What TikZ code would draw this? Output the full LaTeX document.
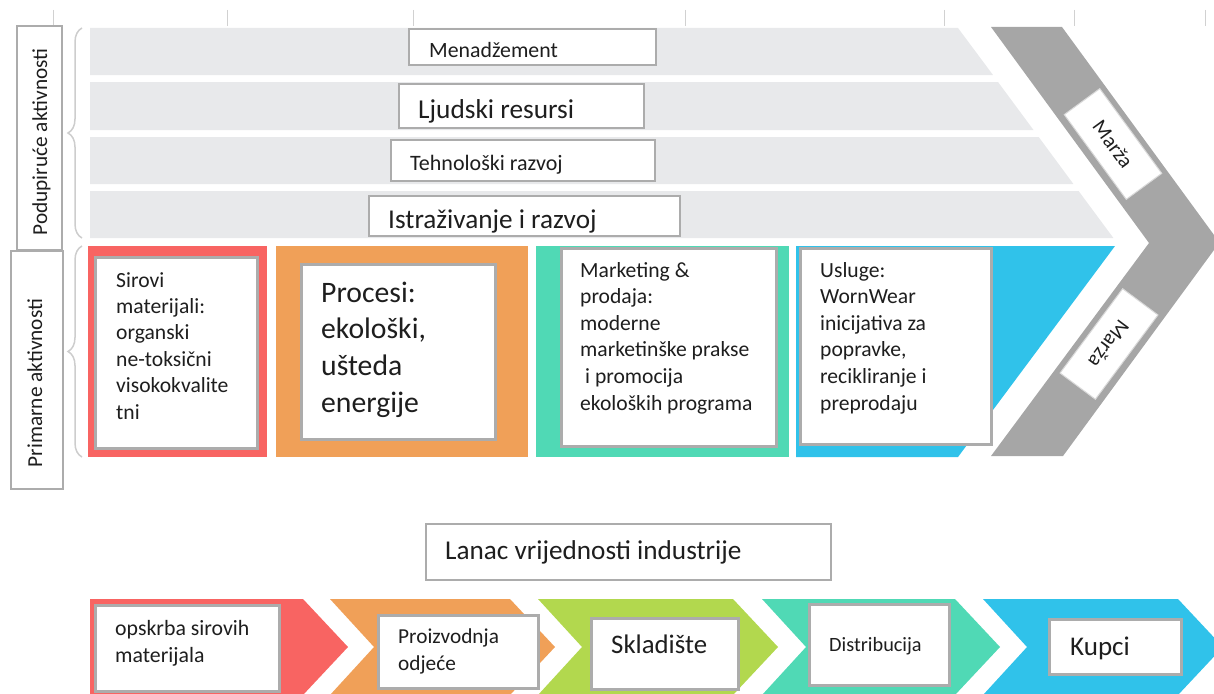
\documentclass[tikz,border=0pt]{standalone}
\usepackage{fontspec}
\setmainfont{Carlito}
\usetikzlibrary{decorations.pathreplacing}
\definecolor{bargray}{RGB}{232,233,235}
\definecolor{cred}{RGB}{248,100,98}
\definecolor{corange}{RGB}{240,160,88}
\definecolor{cteal}{RGB}{80,217,181}
\definecolor{cblue}{RGB}{48,194,234}
\definecolor{clime}{RGB}{178,216,78}
\definecolor{cmargin}{RGB}{166,166,166}
\definecolor{boxgray}{RGB}{172,172,172}
\definecolor{bracegray}{RGB}{205,205,205}
\definecolor{txt}{RGB}{30,30,30}
\newcommand{\fs}[2]{\fontsize{#1}{#2}\selectfont}
\newcommand{\lines}[1]{\begin{tabular}[t]{@{}l@{}}#1\end{tabular}}
\begin{document}
\begin{tikzpicture}[x=1pt,y=-1pt,
  wbox/.style={draw=boxgray,line width=2.5pt,fill=white,inner sep=0pt,anchor=north west},
  sbox/.style={draw=boxgray,line width=2pt,fill=white,inner sep=0pt,anchor=north west},
  lbl/.style={anchor=base west,inner sep=0pt,text=txt},
  side/.style={anchor=base,inner sep=0pt,text=txt,rotate=90,font=\fs{21.3}{25}},
  mlabel/.style={fill=white,draw=black!15,line width=1pt,inner sep=0pt,text=txt,font=\fs{21}{25},minimum width=105pt,minimum height=44pt},
  brc/.style={draw=bracegray,line width=1.5pt,decorate,decoration={brace,amplitude=14pt}},
  tickline/.style={draw=black!18,line width=1pt}]
\useasboundingbox (0,0) rectangle (1214,693);
\clip (0,0) rectangle (1214,693);

% ruler ticks
\foreach \tx in {53,227,413,685,944,1074,1205} \draw[tickline] (\tx,10) -- (\tx,26);

% support activity bars
\fill[bargray] (90,28) -- (958,28) -- (993,75) -- (90,75) -- cycle;
\fill[bargray] (90,82) -- (998,82) -- (1033.5,130) -- (90,130) -- cycle;
\fill[bargray] (90,137) -- (1038.7,137) -- (1073.4,184) -- (90,184) -- cycle;
\fill[bargray] (90,191) -- (1078.6,191) -- (1113.4,238) -- (90,238) -- cycle;

% margin chevron
\fill[cmargin] (991,27) -- (1062,27) -- (1219.5,242.5) -- (1063,456) -- (991,456) -- (1149,243) -- cycle;
\node[mlabel,rotate=-53.8] (m1) at (1113,144) {Marža};
\node[mlabel,rotate=-126.6] (m2) at (1109,344) {Marža};

% primary activity blocks
\fill[cred] (88,246) rectangle (267,457);
\fill[corange] (276,246) rectangle (528,457);
\fill[cteal] (536,246) rectangle (789,457);
\fill[cblue] (796,246) -- (1115,246) -- (958,457) -- (796,457) -- cycle;

% side labels
\node[sbox,minimum width=45pt,minimum height=224pt] (supbox) at (16,25) {};
\node[side] (suptxt) at (47,142) {Podupiruće aktivnosti};
\node[sbox,minimum width=52pt,minimum height=238pt] (primbox) at (10,250) {};
\node[side] (primtxt) at (42,383) {Primarne aktivnosti};

% braces
\draw[brc] (82,238) -- (82,28);
\draw[brc] (82,457) -- (82,246);

% support boxes
\node[sbox,minimum width=247pt,minimum height=36pt] (b1) at (408,28) {};
\node[lbl,font=\fs{21.8}{25}] (t1) at (429,58) {Menadžement};
\node[sbox,minimum width=245pt,minimum height=44pt] (b2) at (398,83) {};
\node[lbl,font=\fs{27.3}{32}] (t2) at (418,118) {Ljudski resursi};
\node[sbox,minimum width=264pt,minimum height=41pt] (b3) at (390,139) {};
\node[lbl,font=\fs{22}{25}] (t3) at (410,170) {Tehnološki razvoj};
\node[sbox,minimum width=311pt,minimum height=40pt] (b4) at (368,195) {};
\node[lbl,font=\fs{27.2}{32}] (t4) at (388,228) {Istraživanje i razvoj};

% primary boxes
\node[wbox,minimum width=162pt,minimum height=191pt] (p1) at (94,256) {};
\node[lbl,font=\fs{21.6}{26.4}] (pt1) at (116,287) {\lines{Sirovi\\materijali:\\organski\\ne-toksični\\visokokvalite\\tni}};
\node[wbox,minimum width=194pt,minimum height=175pt] (p2) at (300,263) {};
\node[lbl,font=\fs{29.7}{36.7}] (pt2) at (321,302) {\lines{Procesi:\\ekološki,\\ušteda\\energije}};
\node[wbox,minimum width=215pt,minimum height=198pt] (p3) at (560,247) {};
\node[lbl,font=\fs{21.6}{26.6}] (pt3) at (580,277) {\lines{Marketing \&\\prodaja:\\moderne\\marketinške prakse\\\hspace{5pt}i promocija\\ekoloških programa}};
\node[wbox,minimum width=191pt,minimum height=196pt] (p4) at (799,247) {};
\node[lbl,font=\fs{21.6}{26.6}] (pt4) at (820,277) {\lines{Usluge:\\WornWear\\inicijativa za\\popravke,\\recikliranje i\\preprodaju}};

% industry value chain
\node[sbox,minimum width=405pt,minimum height=56pt] (lanac) at (425,523) {};
\node[lbl,font=\fs{27.2}{32}] (lanactxt) at (445,559) {Lanac vrijednosti industrije};

\fill[cred] (90,599) -- (303,599) -- (348,647) -- (303,695) -- (90,695) -- cycle;
\fill[corange] (330,599) -- (510,599) -- (555,647) -- (510,695) -- (330,695) -- (374,647) -- cycle;
\fill[clime] (538,599) -- (733,599) -- (778,647) -- (733,695) -- (538,695) -- (582,647) -- cycle;
\fill[cteal] (762,599) -- (955,599) -- (1000,647) -- (955,695) -- (762,695) -- (806,647) -- cycle;
\fill[cblue] (983,599) -- (1178,599) -- (1223,647) -- (1178,695) -- (983,695) -- (1027,647) -- cycle;

\node[wbox,minimum width=184pt,minimum height=86pt] (c1) at (94,604) {};
\node[lbl,font=\fs{21.8}{27}] (ct1) at (115,635) {\lines{opskrba sirovih\\materijala}};
\node[wbox,minimum width=160pt,minimum height=73pt] (c2) at (377,614) {};
\node[lbl,font=\fs{21.3}{27}] (ct2) at (398,643) {\lines{Proizvodnja\\odjeće}};
\node[wbox,minimum width=147pt,minimum height=71pt] (c3) at (590,617) {};
\node[lbl,font=\fs{26.8}{30}] (ct3) at (611,653) {Skladište};
\node[wbox,minimum width=140pt,minimum height=81pt] (c4) at (808,603) {};
\node[lbl,font=\fs{20.3}{24}] (ct4) at (829,651) {Distribucija};
\node[wbox,minimum width=132pt,minimum height=55pt] (c5) at (1048,618) {};
\node[lbl,font=\fs{27}{32}] (ct5) at (1070,655) {Kupci};
\end{tikzpicture}
\end{document}
